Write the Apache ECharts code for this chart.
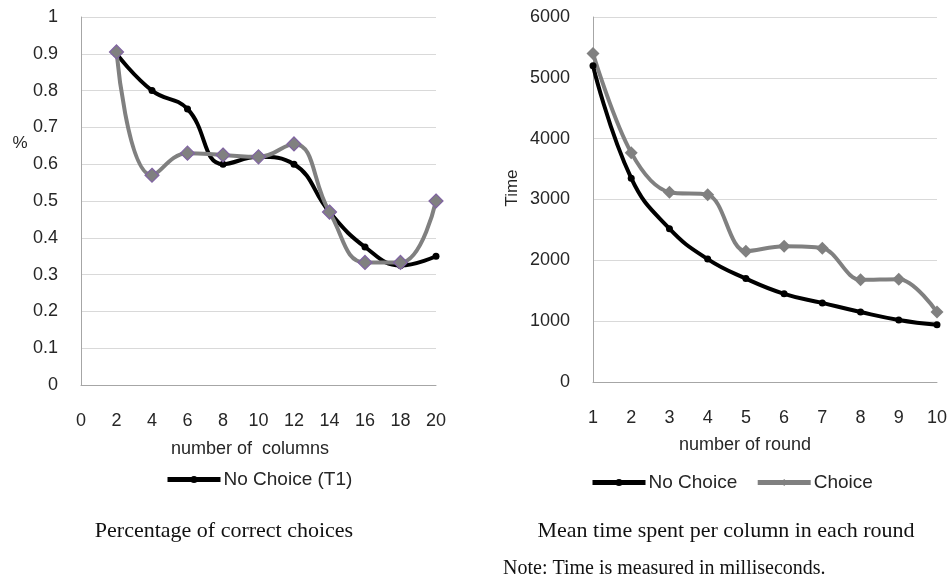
<!DOCTYPE html>
<html>
<head>
<meta charset="utf-8">
<script src="https://cdn.jsdelivr.net/npm/echarts@6/dist/echarts.min.js"></script>
<style>
html,body{margin:0;padding:0;background:#fff;}
#c{width:950px;height:578px;}
</style>
</head>
<body>
<div id="c"></div>
<script>
// Left chart: percentage of correct choices
const columns = [2, 4, 6, 8, 10, 12, 14, 16, 18, 20];
const pctNoChoice = [0.90, 0.80, 0.75, 0.60, 0.62, 0.60, 0.47, 0.375, 0.325, 0.35];
const pctChoice = [0.905, 0.57, 0.63, 0.625, 0.62, 0.655, 0.47, 0.333, 0.333, 0.50];
// Right chart: mean time per column in each round
const rounds = ['1', '2', '3', '4', '5', '6', '7', '8', '9', '10'];
const timeNoChoice = [5200, 3350, 2520, 2020, 1700, 1450, 1300, 1150, 1020, 940];
const timeChoice = [5400, 3770, 3120, 3080, 2150, 2230, 2200, 1680, 1690, 1150];

const SANS = '"Liberation Sans", Arial, sans-serif';
const SERIF = '"Liberation Serif", "Times New Roman", serif';
const TXT = '#262626';
const AXIS = '#a6a6a6';
const GRID = '#d9d9d9';

const chart = echarts.init(document.getElementById('c'));

function pairs(xs, ys) { return xs.map((x, i) => [x, ys[i]]); }

const option = {
  animation: false,
  backgroundColor: '#fff',
  grid: [
    { left: 81, top: 17, width: 355, height: 368 },
    { left: 593, top: 17, width: 344, height: 365 }
  ],
  xAxis: [
    {
      gridIndex: 0, type: 'value', min: 0, max: 20, interval: 2,
      axisLine: { show: true, lineStyle: { color: AXIS, width: 1 } },
      axisTick: { show: false },
      splitLine: { show: false },
      axisLabel: { margin: 27, color: TXT, fontSize: 18, fontFamily: SANS }
    },
    {
      gridIndex: 1, type: 'category', data: rounds, boundaryGap: false,
      axisLine: { show: true, lineStyle: { color: AXIS, width: 1 } },
      axisTick: { show: false },
      splitLine: { show: false },
      axisLabel: { margin: 27, color: TXT, fontSize: 18, fontFamily: SANS, interval: 0 }
    }
  ],
  yAxis: [
    {
      gridIndex: 0, type: 'value', min: 0, max: 1, interval: 0.1,
      axisLine: { show: true, lineStyle: { color: AXIS, width: 1 } },
      axisTick: { show: false },
      splitLine: { show: true, lineStyle: { color: GRID, width: 1 } },
      axisLabel: { margin: 23, color: TXT, fontSize: 18, fontFamily: SANS }
    },
    {
      gridIndex: 1, type: 'value', min: 0, max: 6000, interval: 1000,
      axisLine: { show: true, lineStyle: { color: AXIS, width: 1 } },
      axisTick: { show: false },
      splitLine: { show: true, lineStyle: { color: GRID, width: 1 } },
      axisLabel: { margin: 23, color: TXT, fontSize: 18, fontFamily: SANS, formatter: v => String(v) }
    }
  ],
  legend: [
    {
      data: ['No Choice (T1)'], left: 165, top: 470, padding: 0,
      itemWidth: 53, itemHeight: 9, itemGap: 20,
      lineStyle: { width: 5 },
      textStyle: { color: TXT, fontSize: 19, fontFamily: SANS, padding: [0, 0, 0, -2] }
    },
    {
      data: ['No Choice', 'Choice'], left: 590, top: 473, padding: 0,
      itemWidth: 53, itemHeight: 9, itemGap: 18,
      lineStyle: { width: 5 },
      textStyle: { color: TXT, fontSize: 19, fontFamily: SANS, padding: [0, 0, 0, -2] }
    }
  ],
  series: [
    {
      name: 'No Choice (T1)', type: 'line', xAxisIndex: 0, yAxisIndex: 0,
      data: pairs(columns, pctNoChoice), smooth: 0.45,
      symbol: 'circle', symbolSize: 7,
      lineStyle: { color: '#000', width: 4 },
      itemStyle: { color: '#000' }
    },
    {
      name: 'Choice (T2)', type: 'line', xAxisIndex: 0, yAxisIndex: 0,
      data: pairs(columns, pctChoice), smooth: 0.45,
      symbol: 'diamond', symbolSize: 14,
      lineStyle: { color: '#808080', width: 4 },
      itemStyle: { color: '#808080', borderColor: '#8064a2', borderWidth: 1.2 }
    },
    {
      name: 'No Choice', type: 'line', xAxisIndex: 1, yAxisIndex: 1,
      data: timeNoChoice, smooth: 0.45,
      symbol: 'circle', symbolSize: 7,
      lineStyle: { color: '#000', width: 4 },
      itemStyle: { color: '#000' }
    },
    {
      name: 'Choice', type: 'line', xAxisIndex: 1, yAxisIndex: 1,
      data: timeChoice, smooth: 0.35,
      symbol: 'diamond', symbolSize: 13,
      lineStyle: { color: '#808080', width: 4 },
      itemStyle: { color: '#808080' }
    }
  ],
  graphic: [
    { type: 'text', x: 20, y: 143, style: { text: '%', fontSize: 17, fontFamily: SANS, fill: TXT, align: 'center', verticalAlign: 'middle' } },
    { type: 'text', x: 512, y: 188, rotation: Math.PI / 2, style: { text: 'Time', fontSize: 17, fontFamily: SANS, fill: TXT, align: 'center', verticalAlign: 'middle' } },
    { type: 'text', x: 250, y: 449, style: { text: 'number of  columns', fontSize: 18, fontFamily: SANS, fill: TXT, align: 'center', verticalAlign: 'middle' } },
    { type: 'text', x: 745, y: 445, style: { text: 'number of round', fontSize: 18, fontFamily: SANS, fill: TXT, align: 'center', verticalAlign: 'middle' } },
    { type: 'text', x: 224, y: 531, style: { text: 'Percentage of correct choices', fontSize: 22, fontFamily: SERIF, fill: '#111', align: 'center', verticalAlign: 'middle' } },
    { type: 'text', x: 726, y: 531, style: { text: 'Mean time spent per column in each round', fontSize: 22, fontFamily: SERIF, fill: '#111', align: 'center', verticalAlign: 'middle' } },
    { type: 'text', x: 503, y: 569, style: { text: 'Note: Time is measured in milliseconds.', fontSize: 20, fontFamily: SERIF, fill: '#111', align: 'left', verticalAlign: 'middle' } }
  ]
};
chart.setOption(option);
</script>
</body>
</html>
